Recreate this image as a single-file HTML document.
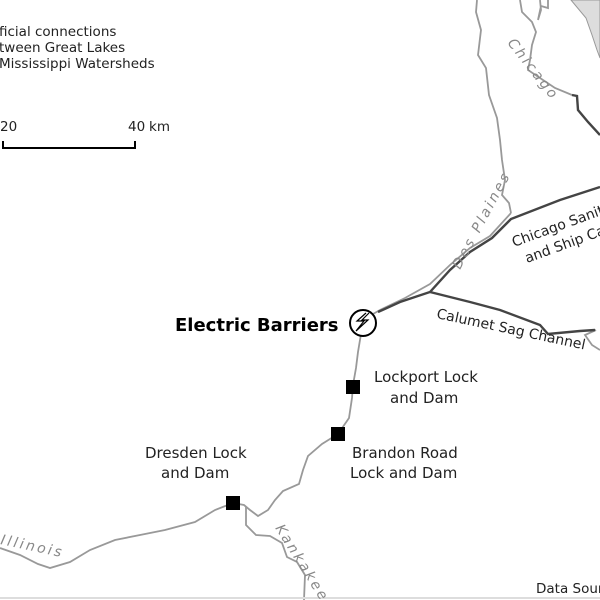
<!DOCTYPE html><html><head><style>body{margin:0;background:#fff}svg{display:block}text{font-family:"DejaVu Sans","Liberation Sans",sans-serif}</style></head><body>
<svg width="600" height="600" viewBox="0 0 600 600">
<path d="M571,0 L586,18 L592,35 L597,50 L600,58 L600,0Z" fill="#ddd" stroke="#999" stroke-width="1"/>
<g fill="none" stroke="#999" stroke-width="1.8">
<path d="M477,0 L476,12 L481,30 L478,55 L486,68 L489,95 L497,118 L500,140 L502,160 L505,180 L502,195 L509,203 L511,213"/>
<path d="M520,0 L522,12 L532,22 L536,32 L532,45 L530,60 L528,70 L540,78 L555,88 L572,95"/>
<path d="M540,0 L541,10 L538,20 L541,6 L548,8 L548,0"/>
<path d="M511,213 L490,236 L470,248 L450,265 L430,284 L405,298 L380,310 L366,318"/>
<path d="M361,334 L358,352 L356,368 L353,385 L352,398 L349,418 L338,434 L322,444 L308,456 L303,470 L299,484 L283,491 L275,500 L268,510 L258,516 L250,510 L244,505 L233,503"/>
<path d="M233,503 L215,510 L195,522 L165,530 L140,535 L115,540 L90,550 L70,562 L50,568 L38,564 L20,555 L0,548"/>
<path d="M246,507 L246,525 L256,535 L270,536 L282,543 L287,557 L297,562 L305,575 L304,600"/>
<path d="M596,330 L585,335 L592,345 L600,350"/>
</g>
<line x1="0" y1="598" x2="600" y2="598" stroke="#ddd" stroke-width="2"/>
<g fill="none" stroke="#444" stroke-width="2.4">
<path d="M572,95 L577,96 L578,110 L588,122 L600,135"/>
<path d="M600,187 L560,200 L511,219 L492,238 L470,252 L450,270 L430,292 L400,302 L378,312"/>
<path d="M430,292 L470,302 L500,310 L540,325 L548,334 L580,331 L595,330"/>
</g>
<circle cx="363" cy="323" r="13" fill="#fff" stroke="#000" stroke-width="2"/>
<path d="M366,313 L357,321 L364,321 L356,331 L368,320 L362,320 L369,313" fill="none" stroke="#000" stroke-width="1.2"/>
<rect x="346" y="380" width="14" height="14"/><rect x="331" y="427" width="14" height="14"/><rect x="226" y="496" width="14" height="14"/>
<g font-size="13.5" fill="#222">
<text x="-1" y="36">ficial connections</text>
<text x="-1" y="52">tween Great Lakes</text>
<text x="-1" y="68"> Mississippi Watersheds</text>
<text x="0" y="131">20</text><text x="128" y="131">40</text><text x="149" y="131">km</text>
<text x="374" y="382" font-size="15">Lockport Lock</text><text x="390" y="403" font-size="15">and Dam</text>
<text x="352" y="458" font-size="15">Brandon Road</text><text x="350" y="478" font-size="15">Lock and Dam</text>
<text x="145" y="458" font-size="15">Dresden Lock</text><text x="161" y="478" font-size="15">and Dam</text>
<text x="536" y="593">Data Source</text>
<text transform="translate(514,247) rotate(-20)" font-size="14">Chicago Sanita</text>
<text transform="translate(527,263) rotate(-20)" font-size="14">and Ship Canal</text>
<text transform="translate(436,318) rotate(12)" font-size="14">Calumet Sag Channel</text>
</g>
<text x="175" y="331" font-size="18" font-weight="bold" fill="#000">Electric Barriers</text>
<path d="M3,141 V148 H135 V141" fill="none" stroke="#000" stroke-width="2"/>
<g font-family="Liberation Serif,serif" font-style="italic" font-size="14" fill="#888" letter-spacing="2.5">
<text transform="translate(460,270) rotate(-62)">Des Plaines</text>
<text transform="translate(507,43) rotate(52)">Chicago</text>
<text transform="translate(0,544) rotate(12)">Illinois</text>
<text transform="translate(275,528) rotate(58)">Kankakee</text>
</g>
</svg></body></html>
